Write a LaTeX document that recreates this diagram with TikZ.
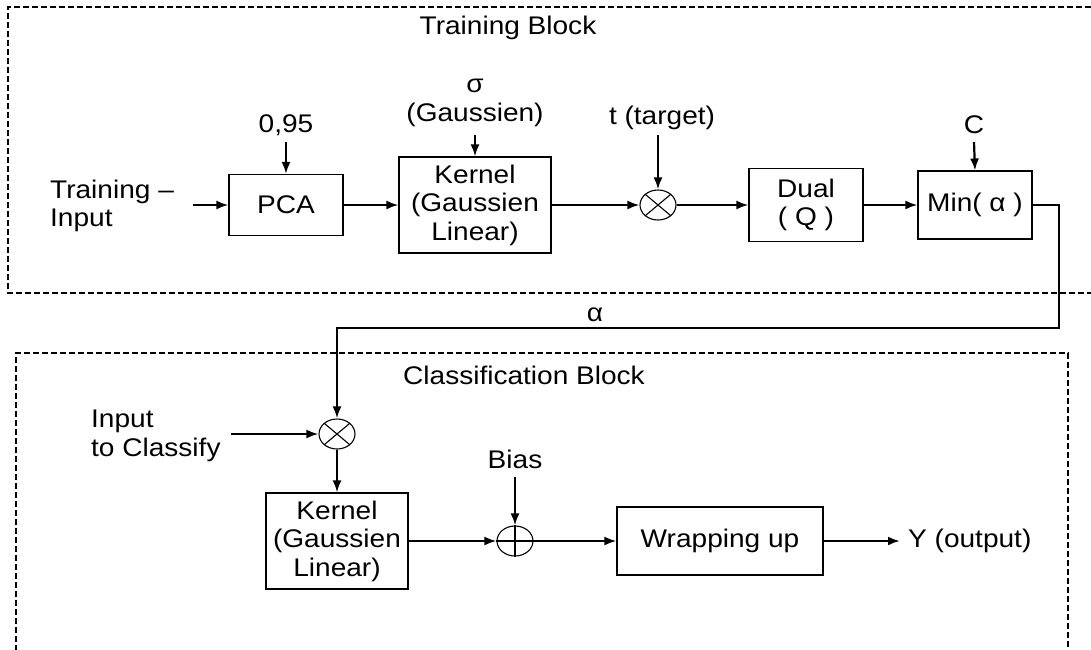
\documentclass[tikz,border=0pt]{standalone}
\usepackage{fontspec}
\setmainfont[FakeStretch=1.1]{Liberation Sans}
\usetikzlibrary{arrows.meta,shapes.geometric}
\begin{document}
\begin{tikzpicture}[x=1pt,y=-1pt,
  every node/.style={font=\fontsize{25.5}{28.5}\selectfont, inner sep=0pt, align=center},
  blk/.style={draw, line width=1.1pt, rectangle},
  opr/.style={draw, line width=1.1pt, ellipse, minimum width=36pt, minimum height=30pt},
  conn/.style={line width=2.2pt, -{Latex[length=12pt,width=9pt]}},
  frame/.style={line width=1.4pt, dash pattern=on 6pt off 3pt}]
\useasboundingbox (0,0) rectangle (1091,649);
\clip (0,0) rectangle (1091,649);

% frames
\draw[frame] (1100,7) -- (8,7) -- (8,293) -- (1100,293);
\draw[frame] (16,660) -- (16,353) -- (1068,353) -- (1068,660);
\node (tb) at (508,28) {Training Block};
\node (cb) at (524,375) {Classification Block};

% training block
\node[blk, minimum width=114pt, minimum height=61pt] (pca) at (286,205) {PCA};
\node[blk, minimum width=152pt, minimum height=96pt] (k1) at (475,205) {Kernel\\(Gaussien\\Linear)};
\node[opr] (m1) at (658,205) {};
\node[blk, minimum width=114pt, minimum height=73pt] (dual) at (806,205) {Dual\\( Q )};
\node[blk, minimum width=114pt, minimum height=68pt] (mn) at (975,205) {Min( α )};

\draw[line width=1.1pt] (m1.north east) -- (m1.south west) (m1.north west) -- (m1.south east);

\node[anchor=west, align=left] (tin) at (50,206) {Training –\\Input};
\node (p95) at (286,125) {0,95};
\node (sig) at (475,103) {σ\\(Gaussien)};
\node (tt) at (662,118) {t (target)};
\node (cc) at (974,125) {C};

\coordinate (tinr) at (193,205);
\coordinate (a95) at (286,142);
\coordinate (asig) at (475,135);
\coordinate (att) at (658,135);
\coordinate (acc) at (974,142);

\draw[conn] (tinr) -- (pca.west);
\draw[conn] (a95) -- (pca.north);
\draw[conn] (pca.east) -- (k1.west);
\draw[conn] (asig) -- (k1.north);
\draw[conn] (k1.east) -- (m1.west);
\draw[conn] (att) -- (m1.north);
\draw[conn] (m1.east) -- (dual.west);
\draw[conn] (dual.east) -- (mn.west);
\draw[conn] (acc) -- (mn.north);

% classification block
\node[opr] (m2) at (337,434) {};
\draw[line width=1.1pt] (m2.north east) -- (m2.south west) (m2.north west) -- (m2.south east);
\node[blk, minimum width=142pt, minimum height=96pt] (k2) at (337,541) {Kernel\\(Gaussien\\Linear)};
\node[opr] (sm) at (515,541) {};
\draw[line width=1.1pt] (sm.north) -- (sm.south) (sm.west) -- (sm.east);
\node[blk, minimum width=206pt, minimum height=68pt] (wr) at (720,541) {Wrapping up};

% feedback
\coordinate (fb) at (1059,328);
\draw[conn] (mn.east) -| (fb) -| (m2.north);
\node (al) at (595,315) {α};

\node[anchor=west, align=left] (icl) at (91,436) {Input\\to Classify};
\node (bias) at (515,459) {Bias};
\node[anchor=west] (yout) at (908,541) {Y (output)};

\coordinate (icr) at (231,434);
\coordinate (abias) at (515,477);
\coordinate (yend) at (900,541);

\draw[conn] (icr) -- (m2.west);
\draw[conn] (m2.south) -- (k2.north);
\draw[conn] (k2.east) -- (sm.west);
\draw[conn] (abias) -- (sm.north);
\draw[conn] (sm.east) -- (wr.west);
\draw[conn] (wr.east) -- (yend);
\end{tikzpicture}
\end{document}
